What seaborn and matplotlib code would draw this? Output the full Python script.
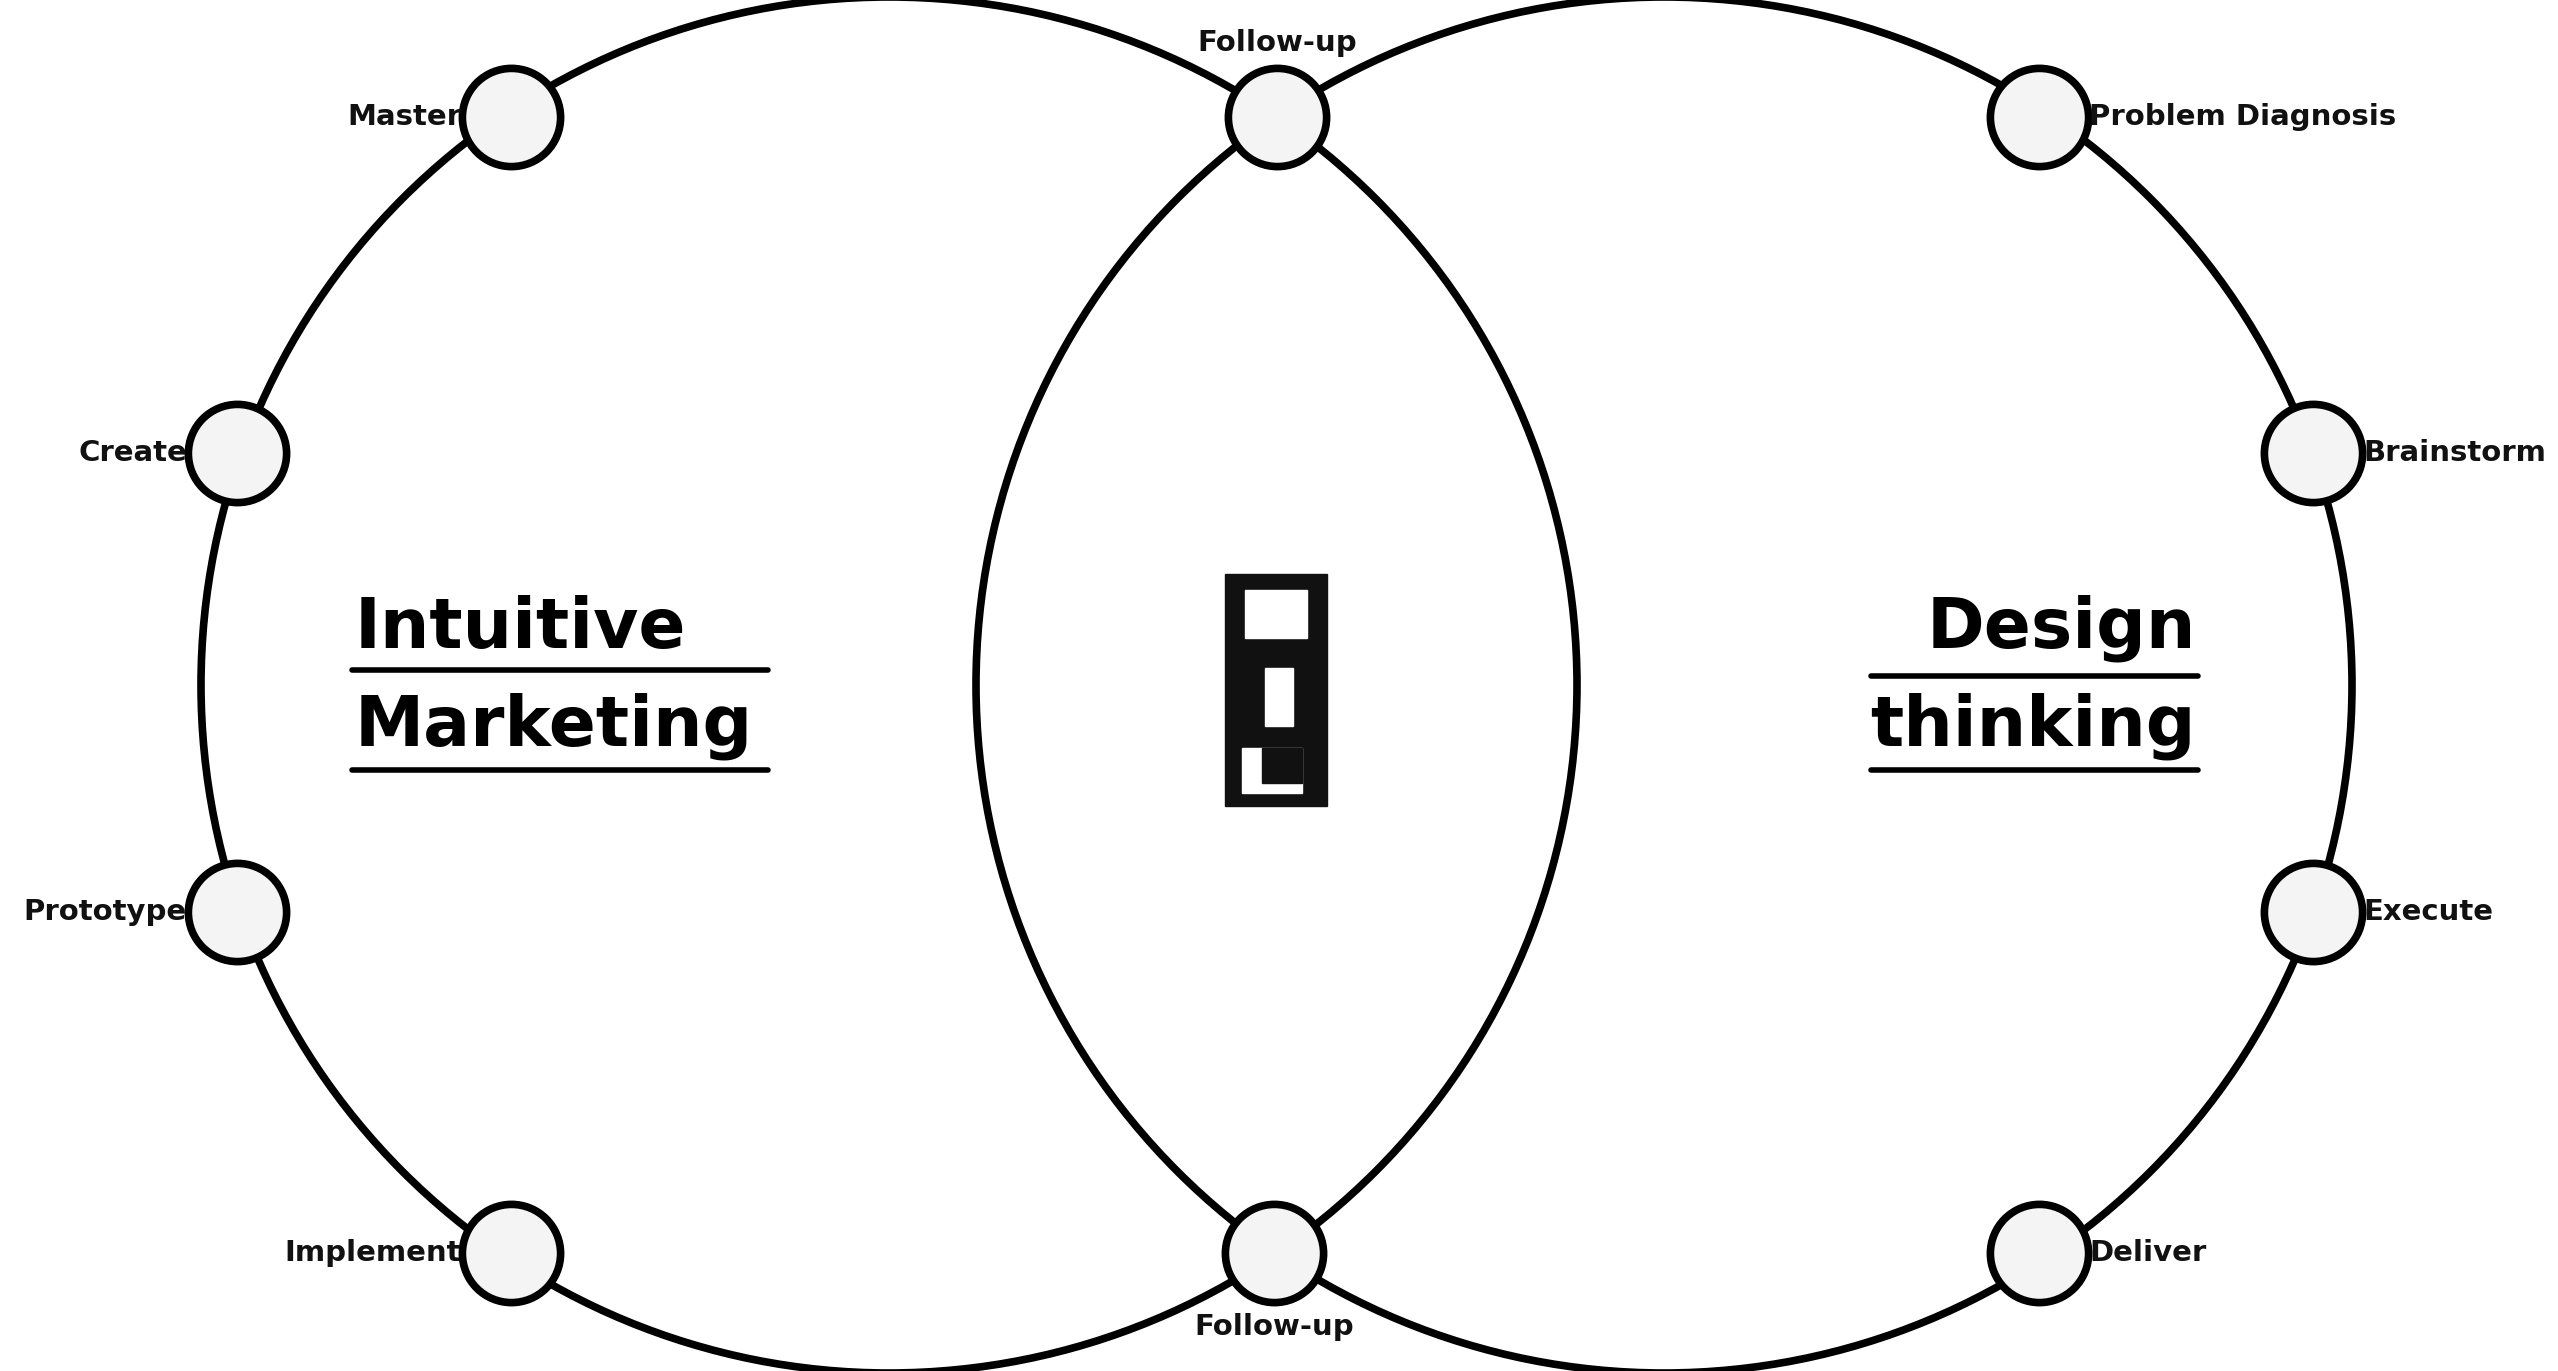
import numpy as np
import pandas as pd
import matplotlib
matplotlib.use("Agg")
import matplotlib.pyplot as plt
import seaborn as sns
from matplotlib.patches import Circle, Rectangle

# two big overlapping circles (pixel space)
ring_x = [889, 1664]
ring_y = [685, 685]
ring_r = 688

# nodes on the rings
node_x = [511, 237, 237, 511, 1277, 1274, 2039, 2313, 2313, 2039]
node_y = [117, 453, 912, 1253, 117, 1253, 117, 453, 912, 1253]
node_label = ["Master", "Create", "Prototype", "Implement", "Follow-up", "Follow-up",
              "Problem Diagnosis", "Brainstorm", "Execute", "Deliver"]
label_side = ["left", "left", "left", "left", "top", "bottom",
              "right", "right", "right", "right"]

titles = ["Intuitive\nMarketing", "Design\nthinking"]

sns.set_theme(style="white")
plt.rcParams['font.family'] = ['DejaVu Sans']

fig = plt.figure(figsize=(25.58, 13.71), dpi=100)
ax = fig.add_axes([0, 0, 1, 1])

for cx, cy in zip(ring_x, ring_y):
    ax.add_patch(Circle((cx, cy), ring_r, fill=False, ec='black', lw=5.5, zorder=1))

nodes = pd.DataFrame({"x": node_x, "y": node_y, "label": node_label, "side": label_side})
sns.scatterplot(data=nodes, x="x", y="y", s=5000, color='#f4f4f4', edgecolor='black',
                linewidth=5.5, ax=ax, zorder=3, legend=False)
ax.set_xlim(0, 2558)
ax.set_ylim(1371, 0)
ax.set_aspect('equal')
ax.axis('off')

off = 50
for _, r in nodes.iterrows():
    kw = dict(fontsize=21, fontweight='bold', color='#111111', zorder=4)
    if r.side == "left":
        ax.text(r.x - off, r.y, r.label, ha='right', va='center', **kw)
    elif r.side == "right":
        ax.text(r.x + off, r.y, r.label, ha='left', va='center', **kw)
    elif r.side == "top":
        ax.text(r.x, r.y - off - 10, r.label, ha='center', va='bottom', **kw)
    else:
        ax.text(r.x, r.y + off + 10, r.label, ha='center', va='top', **kw)

# titles with underlines
tkw = dict(fontsize=50, fontweight='bold', color='black', va='bottom', zorder=4)
l1, l2 = titles[0].split("\n")
ax.text(355, 662, l1, ha='left', **tkw)
ax.text(355, 760, l2, ha='left', **tkw)
for yy in (670, 770):
    ax.plot([352, 768], [yy, yy], color='black', lw=4)
d1, d2 = titles[1].split("\n")
ax.text(2196, 662, d1, ha='right', **tkw)
ax.text(2196, 760, d2, ha='right', **tkw)
for yy in (676, 770):
    ax.plot([1871, 2198], [yy, yy], color='black', lw=4)

# centre icon
ax.add_patch(Rectangle((1225, 574), 102, 232, color='#111111', zorder=4))
ax.add_patch(Rectangle((1245, 590), 62, 48, color='white', zorder=5))
ax.add_patch(Rectangle((1265, 668), 28, 58, color='white', zorder=5))
ax.add_patch(Rectangle((1242, 748), 60, 45, color='white', zorder=5))
ax.add_patch(Rectangle((1262, 748), 40, 35, color='#111111', zorder=6))

fig.savefig("out.png", dpi=100, facecolor='white')
